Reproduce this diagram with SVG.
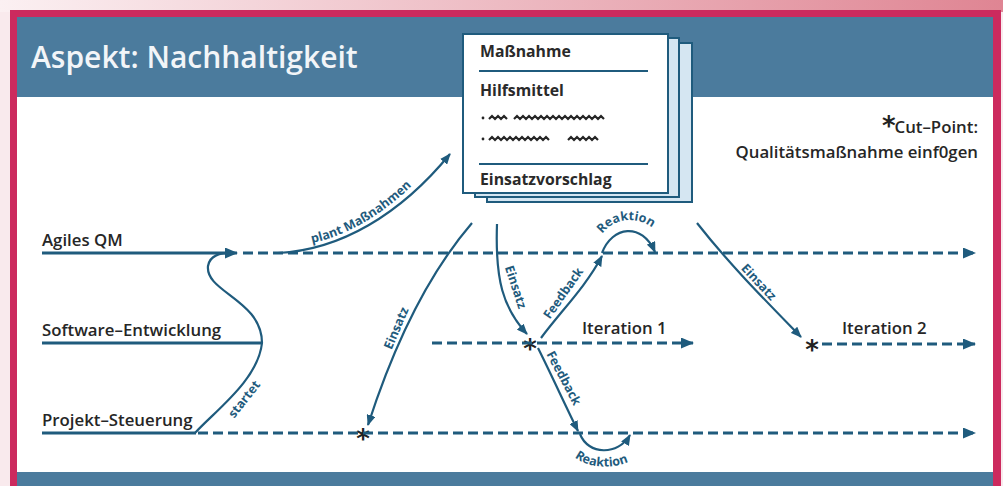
<svg xmlns="http://www.w3.org/2000/svg" width="1003" height="486" viewBox="0 0 1003 486">
<style>
.lane{font-family:"Open Sans","Liberation Sans",sans-serif;font-weight:600;font-size:16.8px;fill:#262626}
.doc{font-family:"Open Sans","Liberation Sans",sans-serif;font-weight:700;font-size:15.8px;fill:#2a2a2a}
.lbl{font-family:"Open Sans","Liberation Sans",sans-serif;font-weight:700;font-size:12.5px;fill:#1f5b7d}
.ast{font-family:"DejaVu Sans",sans-serif;font-weight:700;font-size:26px;fill:#222}
.solid{fill:none;stroke:#1f5b7d;stroke-width:3}
.dash{fill:none;stroke:#1f5b7d;stroke-width:3;stroke-dasharray:10 5}
.conn{fill:none;stroke:#1f5b7d;stroke-width:2.2}
.sheet{fill:#d5e6f2;stroke:#1f5b7d;stroke-width:2}
.rule{stroke:#1f5b7d;stroke-width:2}
.greek{fill:none;stroke:#262626;stroke-width:2.2}
</style>
<defs>
<linearGradient id="topg" x1="0" y1="0" x2="1" y2="0">
<stop offset="0" stop-color="#fbf0f2"/>
<stop offset="1" stop-color="#df8593"/>
</linearGradient>
<marker id="arr" markerUnits="userSpaceOnUse" markerWidth="13" markerHeight="11" refX="12" refY="5.5" orient="auto">
<path d="M0,0 L13,5.5 L0,11 z" fill="#1f5b7d"/>
</marker>
<marker id="arrs" markerUnits="userSpaceOnUse" markerWidth="11" markerHeight="9" refX="10" refY="4.5" orient="auto">
<path d="M0,0 L11,4.5 L0,9 z" fill="#1f5b7d"/>
</marker>
<path id="pPlant" d="M312,243 C355,234 398,205 436,160"/>
<path id="pReak1" d="M596,247 C604,216 643,210 662,238"/>
<path id="pReak2" d="M567,449 C580,470 618,472 638,456"/>
</defs>

<!-- background frame -->
<rect x="0" y="0" width="1003" height="486" fill="#f9eaed"/>
<rect x="0" y="0" width="1003" height="12" fill="url(#topg)"/>
<rect x="10" y="10" width="991" height="480" fill="#cc2a5e"/>
<rect x="17" y="17" width="976" height="470" fill="#ffffff"/>
<rect x="17" y="17" width="976" height="80" fill="#4b7b9d"/>
<rect x="17" y="472" width="976" height="14" fill="#4b7b9d"/>
<text x="31" y="68" font-family="'Open Sans','Liberation Sans',sans-serif" font-weight="600" font-size="30" fill="#f2f5f8">Aspekt: Nachhaltigkeit</text>

<!-- lanes -->
<g id="lane-agiles-qm">
<text class="lane" x="42" y="246">Agiles QM</text>
</g>
<g id="lane-software">
<text class="lane" x="42" y="336">Software–Entwicklung</text>
</g>
<g id="lane-projekt">
<text class="lane" x="42" y="426">Projekt–Steuerung</text>
</g>
<g id="iteration-1">
<text class="lane" x="582" y="334">Iteration 1</text>
</g>
<g id="iteration-2">
<text class="lane" x="842" y="334">Iteration 2</text>
</g>

<!-- document stack -->
<g id="massnahme-doc">
<rect class="sheet" x="487" y="43" width="205" height="159"/>
<rect class="sheet" x="475" y="38" width="204" height="159"/>
<rect x="463" y="34" width="205" height="159" fill="#ffffff" stroke="#1f5b7d" stroke-width="2"/>
<text class="doc" x="480" y="57">Maßnahme</text>
<line class="rule" x1="479" y1="71" x2="648" y2="71"/>
<text class="doc" x="480" y="96">Hilfsmittel</text>
<circle cx="483" cy="118" r="1.4" fill="#262626"/>
<path class="greek" d="M489,119 l3,-3 l3,3 l3,-3 l3,3 l3,-3 l3,3 M514,119 l3,-3 l3,3 l3,-3 l3,3 l3,-3 l3,3 l3,-3 l3,3 l3,-3 l3,3 l3,-3 l3,3 l3,-3 l3,3 l3,-3 l3,3 l3,-3 l3,3 l3,-3 l3,3 l3,-3 l3,3 l3,-3 l3,3 l3,-3 l3,3 l3,-3 l3,3 l3,-3 l3,3"/>
<circle cx="483" cy="139" r="1.4" fill="#262626"/>
<path class="greek" d="M489,140 l3,-3 l3,3 l3,-3 l3,3 l3,-3 l3,3 l3,-3 l3,3 l3,-3 l3,3 l3,-3 l3,3 l3,-3 l3,3 l3,-3 l3,3 l3,-3 l3,3 l3,-3 l3,3 M568,140 l3,-3 l3,3 l3,-3 l3,3 l3,-3 l3,3 l3,-3 l3,3 l3,-3 l3,3"/>
<line class="rule" x1="479" y1="164" x2="648" y2="164"/>
<text class="doc" x="480" y="185">Einsatzvorschlag</text>
</g>

<!-- cut-point legend -->
<g id="cut-point-legend">
<text class="ast" x="882" y="135" font-size="22">*</text>
<text class="lane" x="978" y="133" text-anchor="end" font-size="15.5">Cut–Point:</text>
<text class="lane" x="978" y="158" text-anchor="end" font-size="15.5">Qualitätsmaßnahme einf0gen</text>
</g>

<!-- cut points -->
<g id="cut-points">
<text class="ast" x="530" y="358" text-anchor="middle">*</text>
<text class="ast" x="363" y="448" text-anchor="middle">*</text>
<text class="ast" x="812" y="359" text-anchor="middle">*</text>
</g>

<!-- connectors -->
<g id="connectors">
<path class="solid" d="M42,253 H237" marker-end="url(#arr)"/>
<path class="dash" d="M243,253 H975" marker-end="url(#arr)"/>
<path class="solid" d="M42,343 H262"/>
<path class="solid" d="M42,433 H196"/>
<path class="dash" d="M198,433 H975" marker-end="url(#arr)"/>
<path class="dash" d="M432,343 H693" marker-end="url(#arr)"/>
<path class="dash" d="M822,344 H975" marker-end="url(#arr)"/>

<path class="conn" d="M195,433 C215,411 258,380 262,343 C262,300 205,292 208,266 C210,255 220,253 232,253"/>
<path class="conn" d="M278,253 C340,250 400,215 450,154" marker-end="url(#arrs)"/>
<path class="conn" d="M472,223 Q410,295 368,425" marker-end="url(#arrs)"/>
<path class="conn" d="M497,224 C495,280 503,308 527,334" marker-end="url(#arrs)"/>
<path class="conn" d="M541,338 C560,312 585,288 602,256" marker-end="url(#arrs)"/>
<path class="conn" d="M602,253 C612,226 642,222 655,252" marker-end="url(#arrs)"/>
<path class="conn" d="M538,348 C553,378 565,405 578,431" marker-end="url(#arrs)"/>
<path class="conn" d="M580,434 C588,455 618,456 630,435" marker-end="url(#arrs)"/>
<path class="conn" d="M697,223 C730,265 765,300 801,337" marker-end="url(#arrs)"/>

<text class="lbl"><textPath href="#pPlant">plant Maßnahmen</textPath></text>
<text class="lbl" text-anchor="middle"><textPath href="#pReak1" startOffset="50%">Reaktion</textPath></text>
<text class="lbl" text-anchor="middle"><textPath href="#pReak2" startOffset="50%">Reaktion</textPath></text>
<text class="lbl" text-anchor="middle" dominant-baseline="central" transform="translate(244,399) rotate(-52)">startet</text>
<text class="lbl" text-anchor="middle" dominant-baseline="central" transform="translate(396,328) rotate(-67)">Einsatz</text>
<text class="lbl" text-anchor="middle" dominant-baseline="central" transform="translate(516,287) rotate(72)">Einsatz</text>
<text class="lbl" text-anchor="middle" dominant-baseline="central" transform="translate(563,293) rotate(-55)">Feedback</text>
<text class="lbl" text-anchor="middle" dominant-baseline="central" transform="translate(564,378) rotate(62)">Feedback</text>
<text class="lbl" text-anchor="middle" dominant-baseline="central" transform="translate(759,282) rotate(47)">Einsatz</text>
</g>
</svg>
